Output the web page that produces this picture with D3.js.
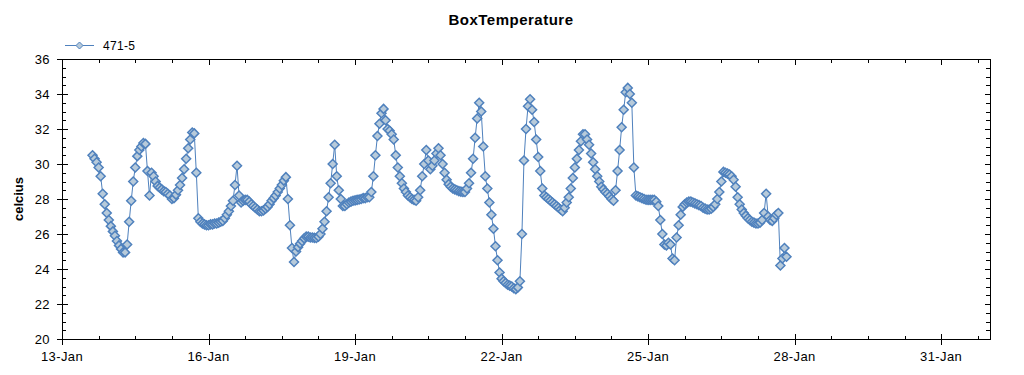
<!DOCTYPE html>
<html>
<head>
<meta charset="utf-8">
<script src="https://cdn.jsdelivr.net/npm/d3@7"></script>
<style>
  body { margin: 0; background: #fff; }
  text { font-family: "Liberation Sans", Arial, sans-serif; fill: #000; }
</style>
</head>
<body>
<div id="chart"></div>
<script>
////////////////////////////////////////////////////////////////
// Data

let seriesName = "471-5"
let firstReading = "2014-01-13T15:00:00"
let readingStepHours = 1

// box temperature, one reading per hour
let temps = [
  30.5, 30.3, 30.1, 29.8, 29.3, 28.3, 27.7, 27.2, 26.8, 26.45,
  26.15, 25.9, 25.6, 25.35, 25.15, 24.95, 24.95, 25.4, 26.7, 27.9,
  29.0, 29.8, 30.45, 30.8, 31.0, 31.2, 31.15, 29.6, 28.2, 29.5,
  29.3, 29.0, 28.75, 28.65, 28.55, 28.45, 28.4, 28.3, 28.2, 28.0,
  28.05, 28.25, 28.5, 28.8, 29.2, 29.7, 30.3, 30.9, 31.4, 31.8,
  31.75, 29.5, 26.9, 26.7, 26.6, 26.55, 26.5, 26.5, 26.55, 26.55,
  26.6, 26.6, 26.65, 26.7, 26.75, 26.9, 27.1, 27.3, 27.6, 27.9,
  28.8, 29.9, 28.2, 27.8, 27.9, 27.95, 27.95, 27.85, 27.7, 27.6,
  27.5, 27.4, 27.3, 27.3, 27.35, 27.45, 27.55, 27.7, 27.9, 28.05,
  28.2, 28.4, 28.6, 28.8, 29.05, 29.25, 28.0, 26.5, 25.2, 24.4,
  25.0, 25.25, 25.45, 25.6, 25.75, 25.85, 25.85, 25.8, 25.8, 25.78,
  25.77, 25.85, 26.0, 26.3, 26.7, 27.3, 28.1, 28.9, 30.0, 31.1,
  29.3, 28.5, 28.0, 27.6, 27.6, 27.7, 27.8, 27.85, 27.9, 27.92,
  27.95, 27.97, 28.0, 28.05, 28.05, 28.1, 28.1, 28.4, 29.3, 30.5,
  31.6, 32.3, 32.9, 33.15, 32.5, 32.0, 31.9, 31.7, 31.4, 30.5,
  29.8, 29.3, 28.9, 28.6, 28.4, 28.2, 28.1, 28.0, 27.95, 27.9,
  28.1, 28.5, 29.3, 30.0, 30.8, 30.2, 29.7, 29.9, 30.2, 30.6,
  30.9, 30.5, 30.0, 29.5, 29.1, 28.85, 28.7, 28.6, 28.55, 28.5,
  28.45, 28.42, 28.4, 28.4, 28.6, 28.9, 29.5, 30.3, 31.5, 32.6,
  33.5, 33.0, 31.0, 29.3, 28.6, 27.8, 27.1, 26.3, 25.3, 24.5,
  23.8, 23.45, 23.3, 23.2, 23.1, 23.05, 23.0, 22.9, 22.85, 22.95,
  23.3, 26.0, 30.2, 32.0, 33.3, 33.7, 33.1, 32.4, 31.4, 30.4,
  29.6, 28.6, 28.2, 28.1, 28.0, 27.9, 27.8, 27.7, 27.6, 27.5,
  27.4, 27.3, 27.5, 27.8, 28.1, 28.6, 29.2, 29.8, 30.3, 30.8,
  31.3, 31.7, 31.7, 31.4, 31.1, 30.6, 30.1, 29.7, 29.3, 29.0,
  28.7, 28.55, 28.4, 28.3, 28.15, 28.0, 27.9, 28.5, 29.6, 30.8,
  32.1, 33.1, 34.1, 34.35, 34.0, 33.5, 29.8, 28.2, 28.15, 28.1,
  28.05, 28.0, 27.96, 27.95, 27.95, 27.95, 27.95, 27.85, 27.6, 26.8,
  26.0, 25.4, 25.35, 25.5, 25.4, 24.6, 24.5, 25.8, 26.5, 27.1,
  27.55, 27.7, 27.8, 27.85, 27.85, 27.8, 27.75, 27.7, 27.65, 27.6,
  27.5, 27.45, 27.4, 27.4, 27.45, 27.55, 27.7, 28.0, 28.4, 29.0,
  29.55, 29.5, 29.45, 29.4, 29.3, 29.1, 28.7, 28.1, 27.7, 27.4,
  27.2, 27.05, 26.9, 26.8, 26.7, 26.65, 26.6, 26.6, 26.65, 26.8,
  27.2, 28.3, 27.0, 26.8, 26.75, 26.9, 27.1, 27.2, 24.2, 24.6,
  25.2, 24.7
]

let xDomain = ["2014-01-13T00:00:00", "2014-02-01T00:00:00"]
let xTickDates = ["2014-01-13", "2014-01-16", "2014-01-19", "2014-01-22",
                  "2014-01-25", "2014-01-28", "2014-01-31"]
let yDomain = [20, 36]
let yTickValues = [20, 22, 24, 26, 28, 30, 32, 34, 36]

let parseTime = d3.isoParse
let start = parseTime(firstReading)
let dataset = temps.map((v, i) => ({
  time: d3.timeHour.offset(start, i * readingStepHours),
  value: v
}))


////////////////////////////////////////////////////////////////
// Setup

let width = 1024, height = 375
let plot = {left: 62, right: 990, top: 59, bottom: 339}

let svg = d3.select("#chart").append("svg")
svg.attr("width", width)
  .attr("height", height)

let xScale = d3.scaleTime()
               .domain(xDomain.map(d => parseTime(d)))
               .range([plot.left, plot.right])
let yScale = d3.scaleLinear()
               .domain(yDomain)
               .range([plot.bottom, plot.top])

let lineColor = "#4f81bd"
let markerFill = "#b7cada"
let diamond = "M0,-4.5L4.5,0L0,4.5L-4.5,0Z"


////////////////////////////////////////////////////////////////
// Axes (ticks cross on left/bottom, inside only on top/right)

let xMajor = xTickDates.map(d => parseTime(d))
// minor ticks every 18 hours, skipping the 3-day major ones
let x0 = xScale.domain()[0], x1 = xScale.domain()[1]
let xMinor = d3.range(1, 26)
               .filter(i => i % 4 !== 0)
               .map(i => d3.timeHour.offset(x0, i * 18))
               .filter(t => t < x1)
let yMinor = d3.range(yDomain[0], yDomain[1] + 0.01, 0.5).filter(v => v % 2 !== 0)

let axes = svg.append("g").attr("stroke", "#000").attr("stroke-width", 1)

let px = v => Math.round(v) + 0.5

// frame
axes.append("rect")
  .attr("x", px(plot.left))
  .attr("y", px(plot.top))
  .attr("width", plot.right - plot.left)
  .attr("height", plot.bottom - plot.top)
  .attr("fill", "none")

// bottom + top ticks
axes.selectAll(".xmaj")
  .data(xMajor)
  .enter().append("line")
  .attr("x1", d => px(xScale(d))).attr("x2", d => px(xScale(d)))
  .attr("y1", plot.bottom - 5).attr("y2", plot.bottom + 6)
axes.selectAll(".xmajtop")
  .data(xMajor)
  .enter().append("line")
  .attr("x1", d => px(xScale(d))).attr("x2", d => px(xScale(d)))
  .attr("y1", plot.top).attr("y2", plot.top + 6)
axes.selectAll(".xmin")
  .data(xMinor)
  .enter().append("line")
  .attr("x1", d => px(xScale(d))).attr("x2", d => px(xScale(d)))
  .attr("y1", plot.bottom - 3).attr("y2", plot.bottom)
axes.selectAll(".xmintop")
  .data(xMinor)
  .enter().append("line")
  .attr("x1", d => px(xScale(d))).attr("x2", d => px(xScale(d)))
  .attr("y1", plot.top).attr("y2", plot.top + 4)

// left + right ticks
axes.selectAll(".ymaj")
  .data(yTickValues)
  .enter().append("line")
  .attr("y1", d => px(yScale(d))).attr("y2", d => px(yScale(d)))
  .attr("x1", plot.left - 5).attr("x2", plot.left + 6)
axes.selectAll(".ymajr")
  .data(yTickValues)
  .enter().append("line")
  .attr("y1", d => px(yScale(d))).attr("y2", d => px(yScale(d)))
  .attr("x1", plot.right - 5).attr("x2", plot.right)
axes.selectAll(".ymin")
  .data(yMinor)
  .enter().append("line")
  .attr("y1", d => px(yScale(d))).attr("y2", d => px(yScale(d)))
  .attr("x1", plot.left).attr("x2", plot.left + 4)
axes.selectAll(".yminr")
  .data(yMinor)
  .enter().append("line")
  .attr("y1", d => px(yScale(d))).attr("y2", d => px(yScale(d)))
  .attr("x1", plot.right - 4).attr("x2", plot.right)

// tick labels
let fmt = d3.timeFormat("%d-%b")
svg.append("g")
  .selectAll("text")
  .data(xMajor)
  .enter().append("text")
  .attr("x", d => xScale(d))
  .attr("y", 361)
  .attr("text-anchor", "middle")
  .style("font-size", "13px")
  .style("letter-spacing", "0.4px")
  .text(d => fmt(d))

svg.append("g")
  .selectAll("text")
  .data(yTickValues)
  .enter().append("text")
  .attr("x", 50)
  .attr("y", d => yScale(d) + 4.5)
  .attr("text-anchor", "end")
  .style("font-size", "13px")
  .style("letter-spacing", "0.4px")
  .text(d => d)


////////////////////////////////////////////////////////////////
// Series: line plus diamond markers

let line = d3.line()
             .x(d => xScale(d.time))
             .y(d => yScale(d.value))

svg.append("path")
  .datum(dataset)
  .attr("d", line)
  .attr("fill", "none")
  .attr("stroke", lineColor)
  .attr("stroke-width", 1)

svg.append("g")
  .selectAll("path")
  .data(dataset)
  .enter().append("path")
  .attr("d", diamond)
  .attr("transform", d => `translate(${xScale(d.time)},${yScale(d.value)})`)
  .attr("fill", markerFill)
  .attr("stroke", lineColor)
  .attr("stroke-width", 1.5)


////////////////////////////////////////////////////////////////
// Title, axis label, legend

svg.append("text")
  .attr("x", 511)
  .attr("y", 25)
  .attr("text-anchor", "middle")
  .style("font-size", "15px")
  .style("font-weight", "bold")
  .style("letter-spacing", "0.5px")
  .text("BoxTemperature")

svg.append("text")
  .attr("transform", "translate(23,199) rotate(-90)")
  .attr("text-anchor", "middle")
  .style("font-size", "13px")
  .style("font-weight", "bold")
  .text("celcius")

let legend = svg.append("g").attr("transform", "translate(65,45.5)")
legend.append("line")
  .attr("x1", 0).attr("x2", 29)
  .attr("stroke", lineColor)
legend.append("path")
  .attr("d", "M0,-3.5L3.5,0L0,3.5L-3.5,0Z")
  .attr("transform", "translate(14.5,0)")
  .attr("fill", markerFill)
  .attr("stroke", lineColor)
legend.append("text")
  .attr("x", 38)
  .attr("y", 4.5)
  .style("font-size", "12px")
  .style("letter-spacing", "0.3px")
  .text(seriesName)
</script>
</body>
</html>
